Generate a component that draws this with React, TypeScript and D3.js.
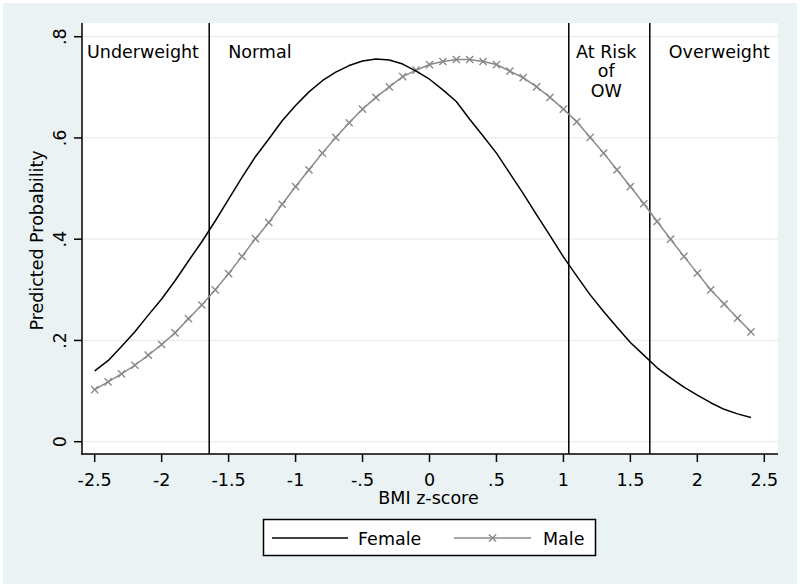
import React from "react";
import * as d3 from "d3";

const zScores = [
  -2.5, -2.4, -2.3, -2.2, -2.1, -2.0, -1.9, -1.8, -1.7, -1.6,
  -1.5, -1.4, -1.3, -1.2, -1.1, -1.0, -0.9, -0.8, -0.7, -0.6,
  -0.5, -0.4, -0.3, -0.2, -0.1, 0.0, 0.1, 0.2, 0.3, 0.4,
  0.5, 0.6, 0.7, 0.8, 0.9, 1.0, 1.1, 1.2, 1.3, 1.4,
  1.5, 1.6, 1.7, 1.8, 1.9, 2.0, 2.1, 2.2, 2.3, 2.4,
];

const female = [
  0.140, 0.160, 0.188, 0.217, 0.250, 0.282, 0.318, 0.357, 0.395, 0.436,
  0.479, 0.522, 0.563, 0.598, 0.634, 0.664, 0.691, 0.713, 0.730, 0.743,
  0.752, 0.756, 0.754, 0.746, 0.732, 0.716, 0.695, 0.672, 0.637, 0.604,
  0.570, 0.530, 0.490, 0.448, 0.407, 0.365, 0.327, 0.290, 0.257, 0.226,
  0.196, 0.171, 0.146, 0.126, 0.108, 0.092, 0.077, 0.064, 0.055, 0.048,
];

const male = [
  0.103, 0.118, 0.134, 0.151, 0.171, 0.192, 0.215, 0.243, 0.270, 0.300,
  0.332, 0.366, 0.401, 0.433, 0.469, 0.504, 0.537, 0.570, 0.601, 0.630,
  0.657, 0.680, 0.701, 0.721, 0.734, 0.745, 0.751, 0.755, 0.755, 0.751,
  0.745, 0.732, 0.719, 0.701, 0.680, 0.657, 0.632, 0.601, 0.570, 0.537,
  0.504, 0.470, 0.435, 0.400, 0.366, 0.333, 0.300, 0.272, 0.244, 0.217,
];

const xTicks = [-2.5, -2, -1.5, -1, -0.5, 0, 0.5, 1, 1.5, 2, 2.5];
const xTickLabels = ["-2.5", "-2", "-1.5", "-1", "-.5", "0", ".5", "1", "1.5", "2", "2.5"];
const yTicks = [0, 0.2, 0.4, 0.6, 0.8];
const yTickLabels = ["0", ".2", ".4", ".6", ".8"];
const cutoffs = [-1.645, 1.04, 1.645];
const seriesNames = ["Female", "Male"];
const xTitle = "BMI z-score";
const yTitle = "Predicted Probability";

const FONT = "'DejaVu Sans', 'Liberation Sans', Arial, sans-serif";
const FS = 17.5;
const MALE_COLOR = "#8a8a8a";
const BG = "#EAF2F3";

const W = 800;
const H = 587;
const PL = 82;
const PR = 778;
const PT = 23;
const PB = 454;

function XMark({ cx, cy, s = 3.6, color = MALE_COLOR }: { cx: number; cy: number; s?: number; color?: string }) {
  return (
    <g stroke={color} strokeWidth={1.4}>
      <line x1={cx - s} y1={cy - s} x2={cx + s} y2={cy + s} />
      <line x1={cx - s} y1={cy + s} x2={cx + s} y2={cy - s} />
    </g>
  );
}

export default function App() {
  const x = d3.scaleLinear().domain([-2.5, 2.5]).range([94.7, 764.3]);
  const y = d3.scaleLinear().domain([0, 0.8]).range([441.7, 36.7]);

  const femalePts: [number, number][] = zScores.map((z, i) => [z, female[i]]);
  const malePts: [number, number][] = zScores.map((z, i) => [z, male[i]]);
  const line = d3
    .line<[number, number]>()
    .x((d) => x(d[0]))
    .y((d) => y(d[1]));

  const cx1 = x(cutoffs[0]);
  const cx2 = x(cutoffs[1]);
  const cx3 = x(cutoffs[2]);

  return (
    <svg
      width={W}
      height={H}
      style={{ position: "absolute", left: 0, top: 0, background: "#ffffff" }}
      fontFamily={FONT}
    >
      <rect x={3} y={3} width={794} height={581} fill={BG} />
      <rect x={PL} y={PT} width={PR - PL} height={PB - PT} fill="#ffffff" />

      {/* grid */}
      {yTicks.map((t) => (
        <line key={"g" + t} x1={PL} x2={PR} y1={y(t)} y2={y(t)} stroke="#e8eeee" strokeWidth={1.2} />
      ))}

      {/* cutoff lines */}
      {cutoffs.map((c) => (
        <line key={"c" + c} x1={x(c)} x2={x(c)} y1={PT} y2={PB} stroke="#000" strokeWidth={1.5} />
      ))}

      {/* zone labels */}
      <g fontSize={FS} fill="#000">
        <text x={PL + 5} y={57.5}>Underweight</text>
        <text x={cx1 + 19} y={57.5}>Normal</text>
        <text x={(cx2 + cx3) / 2 - 3} y={57.5} textAnchor="middle">At Risk</text>
        <text x={(cx2 + cx3) / 2 - 3} y={77} textAnchor="middle">of</text>
        <text x={(cx2 + cx3) / 2 - 3} y={96.5} textAnchor="middle">OW</text>
        <text x={cx3 + 19} y={57.5}>Overweight</text>
      </g>

      {/* series */}
      <path d={line(malePts) || ""} fill="none" stroke={MALE_COLOR} strokeWidth={1.5} />
      {malePts.map((p, i) => (
        <XMark key={"m" + i} cx={x(p[0])} cy={y(p[1])} />
      ))}
      <path d={line(femalePts) || ""} fill="none" stroke="#000" strokeWidth={1.5} strokeLinejoin="round" />

      {/* axes */}
      <line x1={PL} x2={PL} y1={PT} y2={PB + 0.75} stroke="#000" strokeWidth={1.5} />
      <line x1={PL - 0.75} x2={PR} y1={PB} y2={PB} stroke="#000" strokeWidth={1.5} />

      {yTicks.map((t, i) => (
        <g key={"yt" + t}>
          <line x1={PL - 8} x2={PL} y1={y(t)} y2={y(t)} stroke="#000" strokeWidth={1.5} />
          <text
            transform={`translate(66,${y(t)}) rotate(-90)`}
            textAnchor="middle"
            fontSize={FS}
            fill="#000"
          >
            {yTickLabels[i]}
          </text>
        </g>
      ))}

      {xTicks.map((t, i) => (
        <g key={"xt" + t}>
          <line x1={x(t)} x2={x(t)} y1={PB} y2={PB + 8} stroke="#000" strokeWidth={1.5} />
          <text x={x(t)} y={485.5} textAnchor="middle" fontSize={FS} fill="#000">
            {xTickLabels[i]}
          </text>
        </g>
      ))}

      <text x={428.5} y={504} textAnchor="middle" fontSize={FS} fill="#000">
        {xTitle}
      </text>
      <text
        transform={`translate(43,${(PT + PB) / 2 + 2}) rotate(-90)`}
        textAnchor="middle"
        fontSize={FS}
        fill="#000"
      >
        {yTitle}
      </text>

      {/* legend */}
      <rect x={263.5} y={519.5} width={332} height={36} fill="#fff" stroke="#000" strokeWidth={1.5} />
      <line x1={272} x2={348} y1={538} y2={538} stroke="#000" strokeWidth={1.5} />
      <text x={358} y={544.5} fontSize={FS} fill="#000">
        {seriesNames[0]}
      </text>
      <line x1={454} x2={531} y1={538} y2={538} stroke={MALE_COLOR} strokeWidth={1.5} />
      <XMark cx={492.5} cy={538} />
      <text x={543} y={544.5} fontSize={FS} fill="#000">
        {seriesNames[1]}
      </text>
    </svg>
  );
}
